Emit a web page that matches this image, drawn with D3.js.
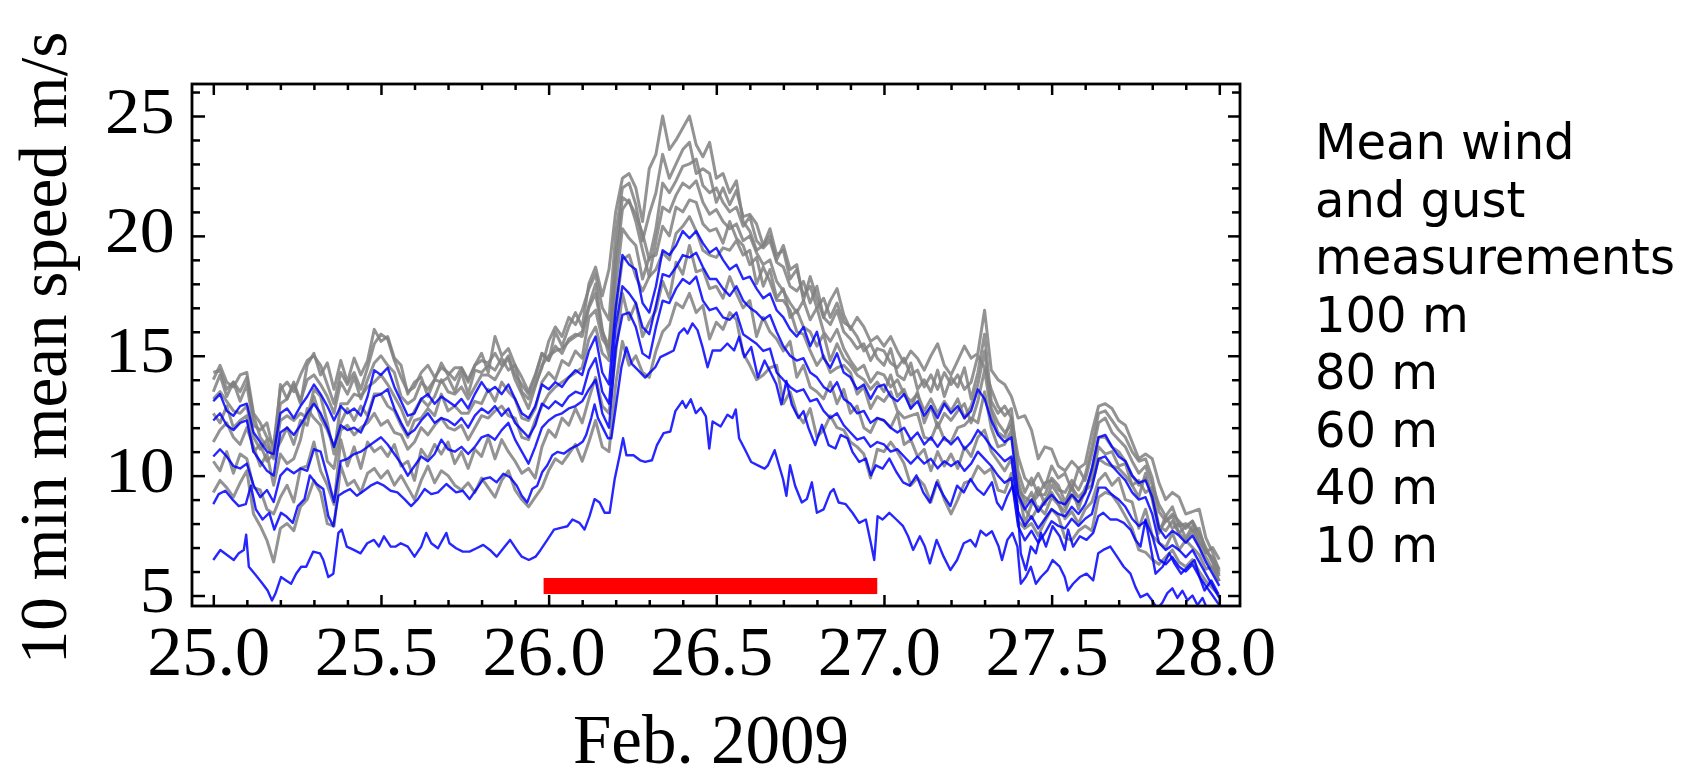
<!DOCTYPE html>
<html><head><meta charset="utf-8">
<script src="https://cdn.jsdelivr.net/npm/d3@7"></script>
<style>body{margin:0;background:#fff}</style>
</head><body>
<svg id="chart" width="1689" height="779"></svg>
<script>
// ---------------- DATA ----------------
// time axis (days of Feb. 2009) for the gridded series
const days = [
25.00,25.02,25.04,25.06,25.08,25.10,25.12,25.14,25.16,25.18,25.20,25.22,25.24,25.26,25.28,25.30,25.32,25.34,25.36,25.38,25.40,25.42,25.44,25.46,25.48,
25.50,25.52,25.54,25.56,25.58,25.60,25.62,25.64,25.66,25.68,25.70,25.72,25.74,25.76,25.78,25.80,25.82,25.84,25.86,25.88,25.90,25.92,25.94,25.96,25.98,
26.00,26.02,26.04,26.06,26.08,26.10,26.12,26.14,26.16,26.18,26.20,26.22,26.24,26.26,26.28,26.30,26.32,26.34,26.36,26.38,26.40,26.42,26.44,26.46,26.48,
26.50,26.52,26.54,26.56,26.58,26.60,26.62,26.64,26.66,26.68,26.70,26.72,26.74,26.76,26.78,26.80,26.82,26.84,26.86,26.88,26.90,26.92,26.94,26.96,26.98,
27.00,27.02,27.04,27.06,27.08,27.10,27.12,27.14,27.16,27.18,27.20,27.22,27.24,27.26,27.28,27.30,27.32,27.34,27.36,27.38,27.40,27.42,27.44,27.46,27.48,
27.50,27.52,27.54,27.56,27.58,27.60,27.62,27.64,27.66,27.68,27.70,27.72,27.74,27.76,27.78,27.80,27.82,27.84,27.86,27.88,27.90,27.92,27.94,27.96,27.98,
28.00];

// mean wind (blue), m/s
const mean100 = [
13.1,13.4,12.7,12.5,12.9,13.0,11.8,11.4,11.0,10.9,12.6,12.8,12.4,12.9,13.3,13.8,13.4,12.9,12.3,12.9,12.6,12.8,12.5,13.3,14.4,
14.2,14.5,13.7,13.1,12.5,12.6,13.2,13.4,13.0,13.3,13.1,12.9,13.2,12.8,13.4,13.9,13.5,13.7,13.4,13.8,13.2,12.6,12.4,12.9,13.8,
13.6,13.9,13.7,14.1,14.4,14.2,15.2,15.8,14.3,13.8,17.0,19.2,18.8,18.6,17.2,16.8,17.9,19.4,19.2,19.6,20.2,19.9,20.2,19.7,19.3,
19.5,19.0,18.6,18.8,18.2,18.3,17.8,17.4,17.6,16.9,16.6,16.1,15.8,16.2,15.4,16.0,14.9,14.5,15.1,14.3,14.1,13.6,13.8,13.2,13.7,
13.8,13.3,13.1,13.4,12.8,13.1,12.5,12.9,12.4,13.0,12.6,12.9,12.4,12.7,13.6,13.2,12.3,11.7,11.4,11.6,9.2,8.6,9.0,8.5,8.9,
9.2,8.9,8.8,9.2,8.9,9.3,10.3,11.6,11.7,11.2,10.8,10.6,10.0,9.7,9.8,9.1,7.8,7.4,7.7,7.5,7.2,7.5,7.0,6.4,5.9,
5.4];
const mean80 = [
12.3,12.6,12.1,11.9,12.2,12.3,11.0,10.6,10.2,10.0,11.8,12.0,11.7,12.1,12.6,13.0,12.6,12.0,11.2,12.1,11.9,12.0,11.8,12.4,13.3,
13.4,13.6,12.8,12.2,11.7,11.9,12.3,12.6,12.2,12.4,12.3,12.1,12.4,12.0,12.5,12.8,12.6,12.9,12.5,12.8,12.2,11.9,11.6,12.1,13.0,
12.8,13.1,12.9,13.3,13.5,13.4,14.4,14.9,13.5,13.0,16.2,17.9,17.6,17.2,16.2,15.9,17.1,18.4,18.3,18.7,19.2,19.1,19.3,18.7,18.2,
18.2,17.8,17.5,17.9,17.3,17.0,16.8,16.5,16.7,16.0,15.4,15.0,14.8,14.9,14.3,14.1,13.7,13.5,13.9,13.2,13.0,12.6,12.7,12.2,12.4,
12.3,12.0,11.8,12.0,11.5,11.8,11.3,11.6,11.2,11.6,11.3,11.6,11.1,11.4,11.9,11.6,11.2,10.9,10.6,10.8,8.5,7.9,8.3,7.8,8.2,
8.6,8.4,8.3,8.7,8.4,8.8,9.5,10.7,10.8,10.4,10.1,9.8,9.3,9.0,9.1,8.4,7.2,6.9,7.1,6.9,6.6,6.9,6.4,5.9,5.4,
4.9];
const mean60 = [
10.8,11.1,10.8,10.4,10.3,10.5,9.6,9.1,9.4,8.9,10.0,10.3,10.1,10.3,10.2,11.1,11.0,10.0,8.9,10.6,10.7,10.9,11.0,11.2,11.4,
11.6,11.3,10.9,10.5,10.0,10.4,10.8,10.6,10.9,11.5,11.1,11.0,11.2,10.9,11.2,11.6,11.7,11.5,11.9,12.2,11.5,11.0,10.5,11.2,12.0,
12.3,12.5,12.6,12.8,12.9,13.1,13.6,14.0,12.6,12.0,15.3,16.7,16.8,16.2,15.1,14.9,16.2,17.3,17.2,17.8,18.2,18.0,18.3,17.3,16.9,
17.0,16.6,16.5,16.8,15.9,15.7,15.5,15.2,15.3,14.3,14.0,13.7,13.5,13.6,13.1,13.2,12.7,12.4,12.6,12.1,11.8,11.5,11.6,11.2,11.4,
11.3,11.0,11.1,10.8,10.5,10.8,10.5,10.7,10.3,10.6,10.4,10.6,10.2,10.5,11.0,10.7,10.4,10.0,9.7,9.9,7.9,7.3,7.7,7.2,7.6,
8.1,7.9,7.8,8.2,7.9,8.2,8.4,9.5,9.5,9.2,9.0,8.7,8.2,7.9,8.1,7.5,6.5,6.3,6.6,6.2,6.0,6.3,5.8,5.4,5.0,
4.6];
// [day, m/s] pairs
const mean40 = [
[25.000,8.81],[25.016,9.23],[25.036,9.37],[25.056,9.02],[25.076,8.73],[25.097,8.81],[25.112,9.58],[25.127,8.59],[25.147,8.17],[25.167,8.45],[25.182,7.75],[25.202,8.45],[25.217,8.31],[25.237,8.03],[25.252,8.73],[25.272,9.02],[25.288,10.01],[25.308,9.65],[25.328,9.44],[25.343,8.31],[25.358,7.89],[25.373,9.16],[25.388,9.30],[25.408,9.44],[25.428,9.16],[25.449,9.37],[25.469,9.58],[25.489,9.72],[25.509,9.58],[25.529,9.37],[25.549,9.30],[25.570,9.02],[25.590,8.73],[25.610,9.02],[25.630,9.44],[25.650,9.23],[25.670,9.30],[25.695,9.65],
[25.724,9.30],[25.744,9.37],[25.764,9.02],[25.785,9.44],[25.805,9.86],[25.825,9.93],[25.845,9.72],[25.865,10.08],[25.885,9.93],[25.905,9.58],[25.920,9.16],[25.936,8.88],[25.951,9.44],[25.966,9.58],[25.981,10.15],[25.996,10.43],[26.011,10.85],[26.026,10.99],[26.046,10.92],[26.066,11.13],[26.087,11.27],[26.102,11.42],[26.112,11.70],[26.127,12.40],[26.137,12.97],[26.147,12.40],[26.162,11.98],[26.177,11.56],[26.187,11.56],[26.197,12.54],[26.207,13.53],[26.217,14.52],[26.232,15.35],[26.248,14.66],[26.268,14.38],[26.288,14.09],[26.298,14.24],[26.318,14.52],[26.333,14.94],[26.353,15.08],[26.373,15.22],[26.389,15.93],[26.404,16.14],[26.414,15.93],[26.429,16.35],[26.444,16.07],[26.459,15.36],[26.474,14.52],[26.489,15.22],
[26.513,15.22],[26.533,15.51],[26.553,15.22],[26.568,15.79],[26.584,14.94],[26.604,15.36],[26.624,14.10],[26.644,14.80],[26.664,14.24],[26.679,13.81],[26.694,12.97],[26.709,13.95],[26.725,12.97],[26.745,12.40],[26.760,12.69],[26.775,11.98],[26.795,11.27],[26.815,12.12],[26.835,11.27],[26.855,11.13],[26.871,11.70],[26.891,11.56],[26.906,10.99],[26.926,10.57],[26.946,10.71],[26.961,10.01],[26.976,10.43],[26.996,10.29],[27.016,10.71],[27.037,10.15],[27.057,9.72],[27.077,9.58],[27.097,10.01],[27.117,9.30],[27.137,8.88],[27.157,9.72],[27.178,9.16],[27.198,8.73],[27.218,9.58],[27.238,9.30],[27.258,9.86],[27.278,9.44],
[27.298,9.20],[27.322,9.72],[27.337,8.88],[27.352,8.59],[27.368,9.16],[27.383,9.58],[27.398,8.73],[27.408,6.76],[27.423,6.06],[27.438,7.04],[27.453,6.76],[27.468,7.61],[27.483,7.04],[27.503,7.89],[27.524,7.47],[27.539,6.90],[27.549,7.75],[27.564,7.04],[27.584,7.47],[27.604,7.32],[27.624,7.61],[27.639,8.31],[27.654,8.45],[27.675,8.17],[27.695,8.17],[27.715,8.03],[27.735,7.75],[27.750,7.32],[27.765,7.04],[27.780,8.17],[27.795,7.04],[27.810,5.91],[27.831,6.20],[27.851,6.76],[27.866,6.34],[27.886,5.91],[27.906,6.20],[27.926,6.48],[27.941,5.77],[27.956,5.21],[27.976,5.63],[27.997,5.07]];
const mean10 = [
[25.000,6.48],[25.021,6.90],[25.041,6.69],[25.061,6.48],[25.076,6.76],[25.091,6.90],[25.098,7.54],[25.106,6.20],[25.127,5.84],[25.147,5.49],[25.162,5.21],[25.175,4.79],[25.185,5.07],[25.202,5.77],[25.217,5.63],[25.232,5.49],[25.247,5.91],[25.262,6.20],[25.277,6.20],[25.298,6.83],[25.318,6.76],[25.328,6.48],[25.343,5.77],[25.358,5.91],[25.373,7.61],[25.383,7.75],[25.398,7.04],[25.419,6.90],[25.439,6.76],[25.459,7.18],[25.479,7.32],[25.494,7.04],[25.509,7.47],[25.529,7.04],[25.544,7.04],[25.559,7.18],[25.580,7.04],[25.600,6.62],[25.620,7.04],[25.635,7.61],[25.650,7.18],[25.670,6.97],[25.695,7.61],
[25.704,7.18],[25.724,6.97],[25.744,6.83],[25.764,6.83],[25.785,6.97],[25.805,7.11],[25.825,6.90],[25.845,6.62],[25.865,6.97],[25.885,7.32],[25.905,6.90],[25.920,6.62],[25.941,6.48],[25.961,6.62],[25.976,6.90],[25.996,7.32],[26.016,7.75],[26.036,7.82],[26.056,7.89],[26.071,8.17],[26.092,8.03],[26.107,7.75],[26.122,8.31],[26.137,9.02],[26.152,8.88],[26.167,8.45],[26.182,8.45],[26.197,9.86],[26.212,10.85],[26.222,11.56],[26.232,10.85],[26.253,10.85],[26.273,10.64],[26.288,10.57],[26.308,10.64],[26.323,11.27],[26.343,11.77],[26.363,11.84],[26.378,12.69],[26.399,13.11],[26.409,12.83],[26.424,13.18],[26.439,12.61],[26.454,12.83],[26.469,12.47],[26.479,11.13],[26.489,12.26],
[26.513,12.05],[26.533,12.54],[26.548,12.40],[26.558,12.76],[26.568,11.56],[26.584,11.13],[26.604,10.57],[26.624,10.43],[26.644,10.29],[26.654,10.43],[26.674,11.06],[26.684,10.57],[26.699,9.86],[26.709,9.16],[26.720,10.43],[26.735,9.58],[26.755,8.88],[26.770,9.02],[26.785,9.72],[26.800,8.45],[26.820,8.59],[26.840,9.30],[26.850,9.44],[26.865,8.88],[26.886,8.81],[26.906,8.45],[26.926,8.03],[26.946,8.17],[26.961,7.18],[26.971,6.48],[26.981,8.31],[26.996,8.17],[27.016,8.45],[27.037,8.17],[27.057,7.89],[27.072,7.47],[27.087,6.90],[27.107,7.47],[27.122,7.04],[27.137,6.34],[27.157,7.32],[27.178,6.62],[27.198,6.06],[27.218,6.48],[27.238,7.18],[27.258,7.32],[27.273,7.04],
[27.288,7.70],[27.305,7.50],[27.322,7.68],[27.342,7.04],[27.352,6.48],[27.368,7.32],[27.383,7.61],[27.398,7.04],[27.408,5.49],[27.423,5.77],[27.438,6.20],[27.453,5.49],[27.468,5.77],[27.488,6.06],[27.503,6.48],[27.524,6.20],[27.539,5.77],[27.549,5.21],[27.564,5.49],[27.584,5.77],[27.604,5.91],[27.624,5.63],[27.639,6.76],[27.654,6.90],[27.675,7.04],[27.695,6.62],[27.715,6.20],[27.735,5.91],[27.750,5.35],[27.765,4.93],[27.785,5.07],[27.800,4.79],[27.815,4.45],[27.830,4.70],[27.845,5.10],[27.860,5.30],[27.875,4.90],[27.890,5.20],[27.905,4.80],[27.920,5.00],[27.935,4.60],[27.950,4.90],[27.965,4.40],[27.980,4.50],[28.000,4.30]];

// gusts (grey), m/s, on the same time axis as `days`
const gust100 = [
14.3,14.4,13.6,13.9,13.5,14.1,12.5,11.6,11.2,10.8,13.8,13.2,13.8,13.0,14.6,15.1,14.2,14.7,13.6,14.8,13.9,14.9,14.2,14.8,16.1,
15.6,15.8,14.9,14.6,13.4,13.9,14.1,13.3,14.0,14.7,14.2,14.5,14.5,14.0,14.6,15.1,14.3,15.8,15.0,15.3,14.6,14.1,13.5,14.2,15.1,
14.8,16.0,15.4,16.2,16.8,16.2,18.0,18.7,17.5,18.6,21.0,22.4,22.6,22.0,20.6,22.8,23.4,25.0,23.6,24.0,24.5,25.0,23.8,23.3,23.9,
22.4,22.6,21.8,22.3,20.6,20.2,19.4,19.6,20.0,19.0,19.6,18.6,18.8,17.3,18.3,17.4,16.6,17.3,17.8,16.7,16.1,16.6,16.2,15.6,15.8,
15.4,15.8,15.2,14.7,15.2,14.9,14.4,15.0,15.5,14.6,14.2,14.8,15.4,14.9,15.1,16.9,14.4,14.0,13.8,13.3,12.4,12.5,11.9,10.7,11.2,
11.1,10.4,10.2,10.6,10.3,10.5,11.8,12.9,13.0,12.8,12.3,12.1,11.4,10.7,10.9,10.7,9.7,9.0,9.3,9.1,8.4,8.5,8.6,7.4,6.8,
6.0];
const gust80 = [
14.0,14.6,13.9,13.7,14.2,14.3,12.6,12.2,11.6,11.3,13.6,13.9,13.5,14.2,14.8,15.0,14.6,13.8,13.0,14.3,13.8,14.3,13.6,14.5,15.5,
15.9,15.7,14.8,14.1,13.5,13.7,14.3,14.6,14.1,14.5,14.3,14.0,14.5,13.9,14.6,14.8,14.7,15.1,14.6,15.0,14.2,13.8,13.4,14.1,15.1,
14.8,15.4,15.1,15.7,15.9,15.8,17.0,17.6,16.0,15.4,19.2,21.6,21.4,20.9,20.1,19.0,20.3,22.2,21.8,22.3,22.9,23.0,23.2,22.1,21.8,
22.0,21.4,21.0,21.2,20.4,20.8,19.8,19.5,19.8,18.9,18.7,17.9,17.7,18.1,17.2,17.9,16.6,16.3,16.9,16.0,15.7,15.3,15.5,14.8,15.3,
15.2,14.7,14.5,14.9,14.2,14.4,13.7,14.2,13.6,14.3,13.8,14.2,13.6,13.9,15.0,14.5,13.6,12.9,12.5,12.8,10.2,9.3,9.9,9.2,9.7,
9.8,9.4,9.3,9.8,9.4,10.0,11.2,12.6,12.7,12.3,11.9,11.6,11.0,10.6,10.7,9.9,8.5,8.1,8.4,8.1,7.8,8.1,7.6,7.0,6.4,
5.8];
const gust70 = [
13.5,14.2,13.3,13.9,13.1,13.8,12.1,11.9,12.2,11.0,13.0,13.2,13.9,13.1,14.0,14.2,13.8,13.3,12.6,13.9,13.4,14.1,13.2,14.0,14.7,
15.0,14.6,14.3,13.3,13.0,13.2,13.9,13.6,14.0,13.9,14.1,13.5,14.3,13.4,14.4,14.3,14.6,14.4,14.9,14.4,14.6,13.5,13.2,13.8,14.5,
15.6,16.2,15.8,16.6,16.3,16.9,17.8,18.4,17.0,16.5,20.1,22.0,22.2,21.3,19.8,20.9,21.8,23.4,22.4,23.0,23.6,23.9,22.6,22.8,22.6,
21.4,22.0,21.3,21.9,20.8,20.9,20.5,19.6,20.3,19.2,19.4,18.2,18.6,17.5,17.9,17.0,17.4,16.6,17.2,16.4,16.2,15.8,15.2,15.5,14.9,
14.6,15.3,14.2,14.0,14.7,13.6,14.0,13.5,14.4,13.3,14.1,13.7,14.5,13.2,14.3,15.9,13.1,12.6,12.9,12.4,10.8,9.9,9.6,10.1,9.5,
10.4,9.9,10.1,9.4,10.3,9.8,10.9,12.2,12.4,11.8,11.5,11.2,10.6,10.1,10.4,9.6,8.8,8.3,8.7,7.9,8.0,7.7,7.8,6.8,6.6,
6.1];
const gust60 = [
13.2,13.5,13.1,12.7,12.6,12.9,11.6,11.1,11.5,10.7,12.3,12.5,12.3,12.6,12.4,13.6,13.3,12.2,10.9,13.0,13.0,13.4,13.3,13.7,13.9,
14.2,13.8,13.3,12.8,12.1,12.7,13.2,12.9,13.3,14.0,13.5,13.4,13.7,13.2,13.7,14.2,14.2,14.0,14.5,14.9,14.0,13.4,12.8,13.7,14.6,
15.0,15.2,15.3,15.6,15.8,16.0,17.1,18.0,16.1,15.0,18.7,21.1,21.5,20.6,19.4,18.3,19.8,21.2,21.0,21.7,22.2,22.0,22.3,21.4,20.9,
21.1,20.6,20.3,20.5,19.8,20.0,19.3,18.8,19.0,18.1,17.7,17.2,16.8,17.3,16.5,17.0,16.0,15.6,16.1,15.3,14.8,14.4,14.6,13.9,14.3,
14.2,13.7,14.0,13.4,13.1,13.4,12.7,13.2,12.6,13.1,12.7,13.2,12.4,12.9,13.8,15.2,12.8,12.2,11.8,12.1,9.8,8.8,9.3,8.5,9.0,
9.3,8.8,8.5,9.2,8.8,9.3,10.2,11.6,11.6,11.2,11.0,10.6,10.0,9.6,9.9,9.2,7.9,7.7,8.1,7.6,7.3,7.7,7.1,6.6,6.1,
5.6];
const gust50 = [
12.6,12.2,12.9,12.0,12.3,12.5,11.0,11.3,10.6,10.9,11.4,12.0,11.3,12.3,12.1,13.3,12.4,11.9,11.2,12.2,12.8,12.3,12.9,12.5,13.4,
13.4,12.9,12.7,12.1,11.6,12.3,12.4,12.8,12.5,13.4,12.7,12.9,12.6,12.6,13.1,13.0,13.6,13.1,13.9,13.5,13.2,12.4,12.3,12.8,13.9,
14.3,14.0,14.8,14.6,15.2,14.9,16.6,16.9,15.7,15.3,17.9,20.3,19.9,19.6,18.2,19.1,19.2,20.4,20.0,21.2,21.0,21.5,21.4,20.5,20.2,
20.3,19.7,20.6,19.9,19.6,18.8,19.1,17.9,18.6,17.4,17.8,16.6,16.9,16.2,16.0,15.4,15.9,14.8,15.5,14.9,14.6,14.2,14.0,13.6,13.9,
13.5,14.2,13.3,13.6,12.8,13.5,12.2,12.9,12.0,12.6,12.3,12.7,13.0,12.2,13.1,14.4,12.6,11.8,11.6,12.4,9.4,9.1,8.9,9.5,8.8,
9.6,9.2,8.7,9.6,8.6,9.5,9.9,11.2,10.9,11.0,10.4,10.5,9.6,9.8,9.3,9.5,7.6,8.3,7.8,8.0,7.4,7.9,7.2,6.9,6.4,
5.9];
const gust40 = [
11.4,11.9,12.2,11.6,11.3,12.0,11.2,10.4,10.9,9.6,10.9,10.5,10.7,11.5,12.8,12.4,12.1,10.6,10.3,11.9,12.1,11.7,12.0,12.2,12.6,
12.1,12.3,11.8,11.7,11.1,11.4,12.0,11.7,12.1,12.4,12.0,11.9,12.1,11.5,12.0,12.5,12.4,12.7,12.9,12.5,12.4,11.6,11.5,12.3,12.9,
13.4,13.7,13.9,14.1,14.3,14.5,15.7,16.2,15.1,14.8,16.9,19.0,19.2,18.3,17.7,18.3,18.6,19.3,19.0,20.1,20.4,20.8,20.2,19.4,19.2,
19.1,19.5,19.4,19.8,19.2,19.4,18.0,18.7,18.1,17.3,17.3,16.9,16.0,15.9,15.2,14.6,15.0,14.3,14.5,14.6,14.3,13.4,13.7,12.8,13.3,
13.1,13.5,12.7,12.4,12.5,12.6,11.6,11.5,12.2,11.5,11.4,12.0,12.1,12.4,12.2,13.5,12.0,11.2,11.3,11.9,9.6,8.0,8.8,9.2,9.2,
9.9,9.6,8.9,9.5,9.1,9.4,9.6,10.7,10.5,10.4,10.3,10.0,9.6,9.1,10.1,9.0,7.7,8.1,8.3,7.6,7.9,8.1,7.4,6.8,7.0,
6.5];
const gust25 = [
10.6,10.2,11.0,10.1,10.9,10.7,9.5,9.4,8.6,8.4,9.1,9.6,8.9,10.3,10.4,11.4,10.2,9.6,8.8,11.5,10.4,11.2,10.3,11.4,11.0,
11.2,10.8,11.3,10.4,10.6,9.8,11.1,10.7,11.3,10.9,11.4,10.5,11.0,10.3,11.1,10.8,11.6,10.7,11.5,11.0,10.6,10.1,10.3,9.9,11.2,
11.9,11.6,12.4,12.1,12.8,12.2,13.2,14.1,12.9,12.6,15.1,17.6,16.5,17.2,15.8,16.4,16.9,18.1,17.4,18.9,18.4,19.6,18.5,18.6,17.8,
17.9,17.4,18.3,17.6,17.0,17.3,15.8,16.6,16.0,15.7,15.2,15.6,14.1,14.6,13.7,13.5,13.2,13.9,13.0,13.6,12.6,12.9,12.0,11.8,12.4,
12.3,12.0,12.6,11.3,11.5,10.8,11.1,10.2,11.0,10.4,10.9,10.3,11.2,10.8,11.6,11.9,11.0,10.6,10.2,10.7,9.0,8.6,8.2,8.7,8.4,
9.1,8.8,8.2,8.5,8.0,8.6,8.9,9.8,10.1,9.6,9.9,9.0,8.9,7.8,8.6,7.5,7.2,7.0,7.6,6.9,7.3,7.0,6.7,6.1,6.2,
5.6];
const gust10 = [
9.3,9.8,9.5,9.1,9.7,10.2,8.4,7.9,7.3,6.4,7.8,8.0,7.7,8.7,9.0,9.8,9.3,8.0,7.9,10.4,9.6,9.8,9.3,10.1,10.3,
9.9,10.2,9.6,10.0,9.5,9.0,9.8,10.4,9.7,10.2,10.0,9.6,9.4,9.7,9.3,9.9,9.5,9.1,9.8,10.2,9.4,9.0,8.7,9.1,9.5,
10.2,10.7,10.5,10.9,11.3,10.6,11.4,12.3,11.2,11.0,13.8,15.6,14.6,15.0,14.3,14.1,15.2,16.0,16.3,17.2,17.0,17.6,16.8,17.1,15.7,
16.4,16.1,16.8,16.5,15.1,14.6,14.0,14.2,14.5,14.6,13.0,13.5,12.6,12.2,12.8,11.6,11.9,12.5,12.0,11.9,11.4,11.2,10.9,9.9,11.1,
11.0,11.4,11.0,10.5,9.6,9.9,9.6,8.9,9.8,9.0,8.4,9.0,9.7,9.8,10.4,10.1,10.3,9.4,9.3,10.1,8.1,7.8,8.0,7.5,8.1,
8.6,8.3,7.4,7.3,7.7,7.9,7.7,9.1,9.3,9.2,8.8,8.3,7.8,6.9,6.8,6.5,6.3,6.6,6.9,6.4,6.2,6.5,6.0,5.6,5.3,
5.0];

const xMajorTicks = [25.0,25.5,26.0,26.5,27.0,27.5,28.0];
const xMinorTicks = [25.1,25.2,25.3,25.4,25.6,25.7,25.8,25.9,26.1,26.2,26.3,26.4,26.6,26.7,26.8,26.9,27.1,27.2,27.3,27.4,27.6,27.7,27.8,27.9];
const yMajorTicks = [5,10,15,20,25];
const yMinorTicks = [6,7,8,9,11,12,13,14,16,17,18,19,21,22,23,24,26];
const highlightPeriod = [25.985, 26.98];   // red bar (days)
const highlightLevels = [5.06, 5.73];      // red bar extent (m/s)
const legendLines = ["Mean wind","and gust","measurements","100 m","80 m","60 m","40 m","10 m"];
const xTitle = "Feb. 2009";
const yTitle = "10 min mean speed m/s";

// ---------------- DRAW ----------------
const svg = d3.select("#chart");
const F = {left:192, right:1240, top:84, bottom:606};
const x = d3.scaleLinear().domain([25,28]).range([213.3,1219.3]);
const y = d3.scaleLinear().domain([5,25]).range([595.5,116]);
const serif = "'Liberation Serif','Times New Roman',serif";

svg.append("rect").attr("width",1689).attr("height",779).attr("fill","#fff");
svg.append("defs").append("clipPath").attr("id","pc").append("rect")
  .attr("x",F.left).attr("y",F.top).attr("width",F.right-F.left).attr("height",F.bottom-F.top);
const plot = svg.append("g").attr("clip-path","url(#pc)");

const gridLine = d3.line().x((d,i)=>x(days[i])).y(d=>y(d));
const pairLine = d3.line().x(d=>x(d[0])).y(d=>y(d[1]));

[gust10,gust25,gust40,gust50,gust60,gust70,gust80,gust100].forEach(s=>{
  plot.append("path").attr("d",gridLine(s)).attr("fill","none")
    .attr("stroke","#808080").attr("stroke-width",3.0).attr("stroke-opacity",0.85)
    .attr("stroke-linejoin","round");
});
[[mean10,pairLine],[mean40,pairLine],[mean60,gridLine],[mean80,gridLine],[mean100,gridLine]].forEach(([s,gen])=>{
  plot.append("path").attr("d",gen(s)).attr("fill","none")
    .attr("stroke","#0000ff").attr("stroke-width",2.4).attr("stroke-opacity",0.85)
    .attr("stroke-linejoin","round");
});
plot.append("rect")
  .attr("x",x(highlightPeriod[0])).attr("width",x(highlightPeriod[1])-x(highlightPeriod[0]))
  .attr("y",y(highlightLevels[1])).attr("height",y(highlightLevels[0])-y(highlightLevels[1]))
  .attr("fill","#ff0000");

function tickStyle(g){
  g.select(".domain").remove();
  g.selectAll(".tick line").attr("stroke","#000").attr("stroke-width",2.5);
}
// bottom
svg.append("g").attr("transform",`translate(0,${F.bottom})`)
  .call(d3.axisBottom(x).tickValues(xMinorTicks).tickSize(-6).tickFormat("")).call(tickStyle);
svg.append("g").attr("transform",`translate(0,${F.bottom})`)
  .call(d3.axisBottom(x).tickValues(xMajorTicks).tickSize(-11).tickFormat(d3.format(".1f"))).call(tickStyle)
  .call(g=>g.selectAll("text").attr("y",69).attr("dy",null).attr("x",-5).attr("transform","scale(1.02,1)")
     .attr("font-family",serif).attr("font-size",69).attr("fill","#000"));
// top
svg.append("g").attr("transform",`translate(0,${F.top})`)
  .call(d3.axisTop(x).tickValues(xMinorTicks).tickSize(-6).tickFormat("")).call(tickStyle);
svg.append("g").attr("transform",`translate(0,${F.top})`)
  .call(d3.axisTop(x).tickValues(xMajorTicks).tickSize(-11).tickFormat("")).call(tickStyle);
// left
svg.append("g").attr("transform",`translate(${F.left},0)`)
  .call(d3.axisLeft(y).tickValues(yMinorTicks).tickSize(-8).tickFormat("")).call(tickStyle);
svg.append("g").attr("transform",`translate(${F.left},0)`)
  .call(d3.axisLeft(y).tickValues(yMajorTicks).tickSize(-13).tickFormat(d3.format("d"))).call(tickStyle)
  .call(g=>g.selectAll("text").attr("x",-16.2).attr("y",16).attr("dy",null).attr("transform","scale(1.06,1)")
     .attr("font-family",serif).attr("font-size",66).attr("fill","#000"));
// right
svg.append("g").attr("transform",`translate(${F.right},0)`)
  .call(d3.axisRight(y).tickValues(yMinorTicks).tickSize(-8).tickFormat("")).call(tickStyle);
svg.append("g").attr("transform",`translate(${F.right},0)`)
  .call(d3.axisRight(y).tickValues(yMajorTicks).tickSize(-12).tickFormat("")).call(tickStyle);

// frame
svg.append("rect").attr("x",F.left).attr("y",F.top).attr("width",F.right-F.left).attr("height",F.bottom-F.top)
  .attr("fill","none").attr("stroke","#000").attr("stroke-width",2.8);

// titles
svg.append("text").attr("x",711).attr("y",763).attr("text-anchor","middle")
  .attr("font-family",serif).attr("font-size",69).attr("fill","#000").text(xTitle);
svg.append("text").attr("transform","translate(66,348) rotate(-90)").attr("text-anchor","middle")
  .attr("font-family",serif).attr("font-size",67).attr("fill","#000").text(yTitle);

// legend text
const lg = svg.append("g").attr("transform","translate(1315,0) scale(0.98,1)");
lg.selectAll("text").data(legendLines).join("text")
  .attr("x",0).attr("y",(d,i)=>159.3+57.5*i)
  .attr("font-family","'DejaVu Sans',Verdana,sans-serif").attr("font-size",49).attr("fill","#000")
  .text(d=>d);

// sanity check of gridded series lengths
[mean100,mean80,mean60,gust100,gust80,gust70,gust60,gust50,gust40,gust25,gust10].forEach((s,k)=>{
  if(s.length!==days.length) svg.append("text").attr("x",300).attr("y",40+20*k).attr("fill","red").attr("font-size",16)
    .text("length mismatch series "+k+": "+s.length);
});
</script>
</body></html>
